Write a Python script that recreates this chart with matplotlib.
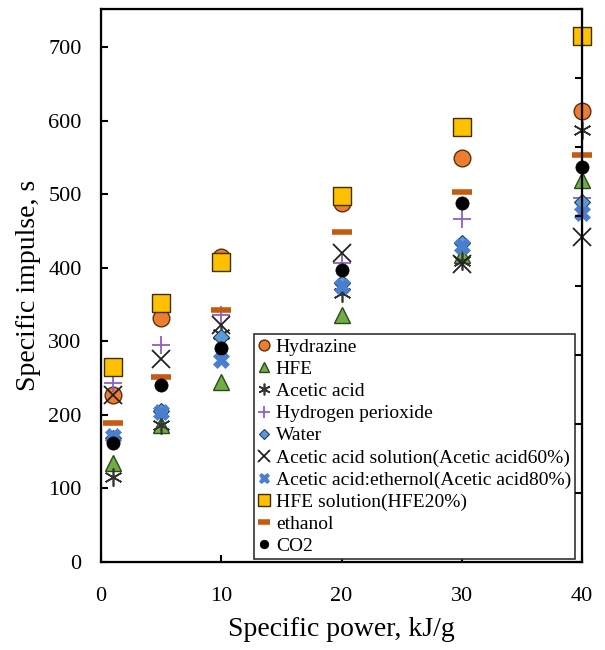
import matplotlib
matplotlib.use("Agg")
import matplotlib.pyplot as plt

plt.rcParams["font.family"] = ["Liberation Serif", "DejaVu Serif"]

# Specific power, kJ/g
power = [1, 5, 10, 20, 30, 40]

# Specific impulse, s
hydrazine = [227, 332, 415, 488, 549, 613]
hfe = [135, 186, 245, 336, 417, 519]
acetic_acid = [116, 186, 310, 366, 410, 587]
h2o2 = [243, 295, 336, 407, 466, 495]
water = [168, 205, 306, 380, 434, 489]
acetic_60 = [227, 276, 322, 420, 405, 442]
acetic_ethanol_80 = [172, 204, 275, 375, 430, 474]
hfe_solution = [265, 352, 408, 498, 591, 716]
ethanol = [189, 251, 343, 449, 503, 553]
co2 = [162, 241, 291, 397, 488, 537]

series = [
    ("Hydrazine", hydrazine, dict(marker="o", ms=12, mfc="#ED7D31", mec="#5a3010", mew=1.0)),
    ("HFE", hfe, dict(marker="^", ms=12, mfc="#70AD47", mec="#2b4a1a", mew=1.0)),
    ("Acetic acid", acetic_acid, dict(marker=(6, 2, 0), ms=13, mfc="none", mec="#333333", mew=1.2)),
    ("Hydrogen perioxide", h2o2, dict(marker="+", ms=13, mfc="none", mec="#8E5FC2", mew=1.3)),
    ("Water", water, dict(marker="D", ms=8, mfc="#5B9BD5", mec="#1f3f66", mew=0.8)),
    ("Acetic acid solution(Acetic acid60%)", acetic_60, dict(marker="x", ms=13, mfc="none", mec="#222222", mew=1.3)),
    ("Acetic acid:ethernol(Acetic acid80%)", acetic_ethanol_80, dict(marker="X", ms=12, mfc="#4A7FD0", mec="#4A7FD0", mew=0.5)),
    ("HFE solution(HFE20%)", hfe_solution, dict(marker="s", ms=13, mfc="#FFC000", mec="#3d3000", mew=1.0)),
    ("ethanol", ethanol, dict(marker="_", ms=14, mfc="none", mec="#C55A11", mew=4)),
    ("CO2", co2, dict(marker="o", ms=9.5, mfc="black", mec="black", mew=0.5)),
]

fig = plt.figure(figsize=(6.05, 6.5), dpi=100)
ax = fig.add_axes([0.167, 0.1354, 0.795, 0.8506])

for name, values, style in series:
    ax.plot(power, values, linestyle="none", label=name, clip_on=False, **style)

ax.set_xlim(0, 40)
ax.set_ylim(0, 752)
ax.set_xticks([0, 10, 20, 30, 40])
ax.set_yticks(range(0, 701, 100))
ax.tick_params(direction="in", length=5, width=1.5, labelsize=16)
ax.tick_params(axis="x", pad=18)
ax.tick_params(axis="y", pad=14)
for side in ["left", "bottom", "top", "right"]:
    ax.spines[side].set_linewidth(1.6)

ax.set_xlabel("Specific power, kJ/g", fontsize=20, labelpad=8)
ax.set_ylabel("Specific impulse, s", fontsize=20, labelpad=5)

# unlabeled ticks on the right spine
ax2 = ax.twinx()
ax2.set_ylim(0, 800)
ax2.set_yticks(range(0, 801, 100))
ax2.set_yticklabels([])
ax2.tick_params(direction="in", length=5, width=1.5)

leg = ax.legend(loc="upper left", bbox_to_anchor=(0.318, 0.412), borderaxespad=0,
                fontsize=14, markerscale=0.65, handlelength=0.6, handletextpad=0.3,
                labelspacing=0.23, borderpad=0.22, fancybox=False, edgecolor="#333333",
                framealpha=1)
leg.get_frame().set_linewidth(1.2)
leg.set_zorder(5)

fig.savefig("out.png", dpi=100)
